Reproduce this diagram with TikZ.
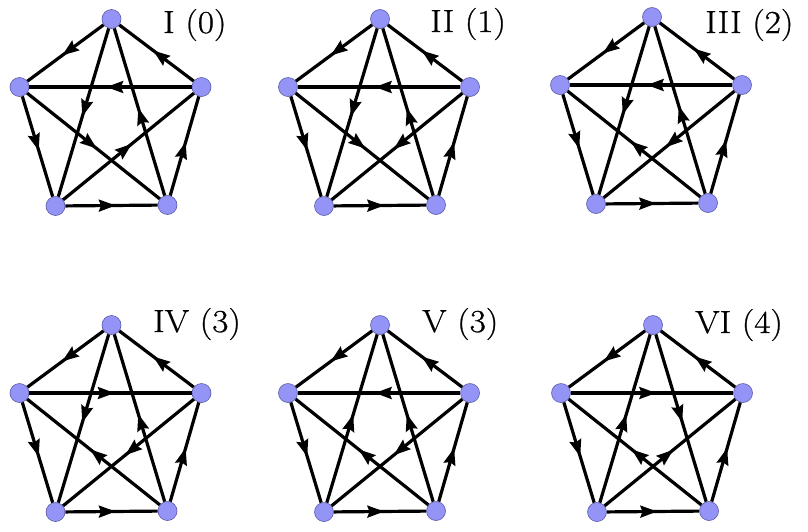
\documentclass[tikz,border=0pt]{standalone}
\usepackage{fontspec}
\newfontfamily\lblfont[FakeBold=0.7]{Latin Modern Roman}
\usetikzlibrary{decorations.markings}
\definecolor{vfill}{RGB}{148,148,246}
\definecolor{vborder}{RGB}{90,90,170}
\tikzset{
  vtx/.style={circle,fill=vfill,draw=vborder,line width=0.6pt,minimum size=19pt,inner sep=0pt},
  edge/.style={line width=3.2pt,black,postaction={decorate},
    decoration={markings,mark=at position 0.5 with {\fill[black] (4pt,0) -- (-13pt,6.3pt) -- (-10.5pt,0) -- (-13pt,-6.3pt) -- cycle;}}},
  lbl/.style={anchor=base west,inner sep=0pt,font=\lblfont\fontsize{32}{32}\selectfont,xscale=1.1,transform shape}
}
\newcommand{\pent}[3]{%
  \node[vtx] (#1t) at (#2,#3) {};
  \node[vtx] (#1l) at (#2-92,#3+68) {};
  \node[vtx] (#1r) at (#2+90,#3+68) {};
  \node[vtx] (#1a) at (#2-56,#3+187) {};
  \node[vtx] (#1b) at (#2+56,#3+186) {};
}
\newcommand{\edges}[2]{%
  \foreach \p/\q in {#2} {\draw[edge] (#1\p) -- (#1\q);}
}
\begin{document}
\begin{tikzpicture}[x=1pt,y=-1pt]
\useasboundingbox (0,0) rectangle (808,531);
\pent{A}{111.5}{19}
\pent{B}{380}{19}
\pent{C}{652}{17}
\pent{D}{111.5}{325}
\pent{E}{380}{325}
\pent{F}{653}{325}
% a = bottom left, b = bottom right
\edges{A}{t/l, r/t, r/l, l/a, a/b, b/r, t/a, b/t, l/b, a/r}
\edges{B}{t/l, r/t, r/l, l/a, a/b, b/r, t/a, b/t, l/b, r/a}
\edges{C}{t/l, r/t, r/l, l/a, a/b, b/r, t/a, b/t, b/l, r/a}
\edges{D}{t/l, r/t, l/r, l/a, a/b, b/r, t/a, b/t, b/l, r/a}
\edges{E}{t/l, r/t, r/l, l/a, a/b, b/r, a/t, b/t, b/l, r/a}
\edges{F}{t/l, r/t, l/r, l/a, a/b, b/r, a/t, t/b, b/l, a/r}
\node[lbl] (LA) at (163,33) {I (0)};
\node[lbl] (LB) at (430,32) {II (1)};
\node[lbl] (LC) at (705,33) {III (2)};
\node[lbl] (LD) at (153,332) {IV (3)};
\node[lbl] (LE) at (422,332) {V (3)};
\node[lbl] (LF) at (695,333) {VI (4)};
\end{tikzpicture}
\end{document}
